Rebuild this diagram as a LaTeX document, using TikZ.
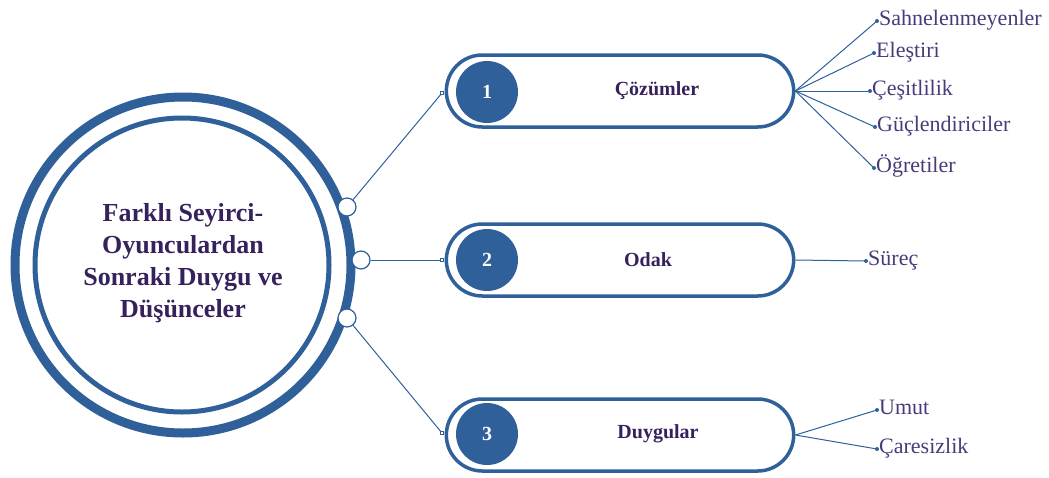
\documentclass[tikz,border=0pt]{standalone}
\usepackage{fontspec}
\setmainfont{Liberation Serif}
\usetikzlibrary{positioning,shapes.misc}

\definecolor{ringblue}{RGB}{47,96,153}
\definecolor{titlepurple}{RGB}{55,33,92}
\definecolor{leafpurple}{RGB}{74,58,122}

\tikzset{
  pill/.style={draw=ringblue, line width=3.5pt, rounded rectangle, minimum height=72pt, minimum width=354pt, fill=white},
  numdisc/.style={circle, fill=ringblue, minimum size=62pt, inner sep=0pt, text=white, font=\fontsize{20}{24}\selectfont\bfseries},
  pilltext/.style={text=titlepurple, font=\fontsize{20}{24}\selectfont\bfseries},
  knob/.style={circle, draw=ringblue, fill=white, line width=1.2pt, minimum size=18pt, inner sep=0pt},
  tip/.style={rectangle, draw=ringblue, fill=white, line width=0.6pt, minimum size=3pt, inner sep=0pt},
  dot/.style={circle, fill=ringblue, minimum size=4pt, inner sep=0pt},
  leaf/.style={text=leafpurple, font=\fontsize{22}{24}\selectfont, inner sep=0pt},
  conn/.style={ringblue, line width=1pt},
}

\begin{document}
\begin{tikzpicture}[x=1pt, y=-1pt]
  \useasboundingbox (0,0) rectangle (1049,477);

  % central rings
  \node[circle, draw=ringblue, line width=9pt, minimum size=336pt] (outer) at (183,265) {};
  \node[circle, draw=ringblue, line width=5pt, minimum size=294pt] (inner) at (182,265) {};
  \node[align=center, text=titlepurple, font=\fontsize{26}{32}\selectfont\bfseries] (title) at (183,263)
    {Farklı Seyirci-\\Oyunculardan\\Sonraki Duygu ve\\Düşünceler};

  % pills
  \node[pill] (sol)  at (620,91)  {};
  \node[pill] (odak) at (620,260) {};
  \node[pill] (duy)  at (620,435) {};

  \node[numdisc] (n1) at (487,92)  {1};
  \node[numdisc] (n2) at (487,260) {2};
  \node[numdisc] (n3) at (487,434) {3};

  \node[pilltext] (t1) at (657,91)  {Çözümler};
  \node[pilltext] (t2) at (648,260) {Odak};
  \node[pilltext] (t3) at (658,434) {Duygular};

  % knobs on the ring and their links
  \node[knob] (k1) at (347,207) {};
  \node[knob] (k2) at (361,260) {};
  \node[knob] (k3) at (347,318) {};

  \node[tip] (e1) at (442,93)  {};
  \node[tip] (e2) at (442,260) {};
  \node[tip] (e3) at (442,433) {};

  \draw[conn] (k1) -- (e1);
  \draw[conn] (k2) -- (e2);
  \draw[conn] (k3) -- (e3);

  % leaves
  \foreach \name/\x/\y/\txt/\hub in {sah/877/21/Sahnelenmeyenler/sol, ele/874/53/Eleştiri/sol,
      ces/870/91/Çeşitlilik/sol, guc/875/127/Güçlendiriciler/sol, ogr/874/168/Öğretiler/sol,
      sur/866/261/Süreç/odak, umu/877/410/Umut/duy, car/877/449/Çaresizlik/duy}{
    \node[dot] (\name) at (\x,\y) {};
    \node[leaf, anchor=base west] (\name-l) at ([xshift=2pt, yshift=-4pt]\name.center) {\txt};
    \draw[conn] (\hub.east) -- (\name.center);
  }

\end{tikzpicture}
\end{document}
